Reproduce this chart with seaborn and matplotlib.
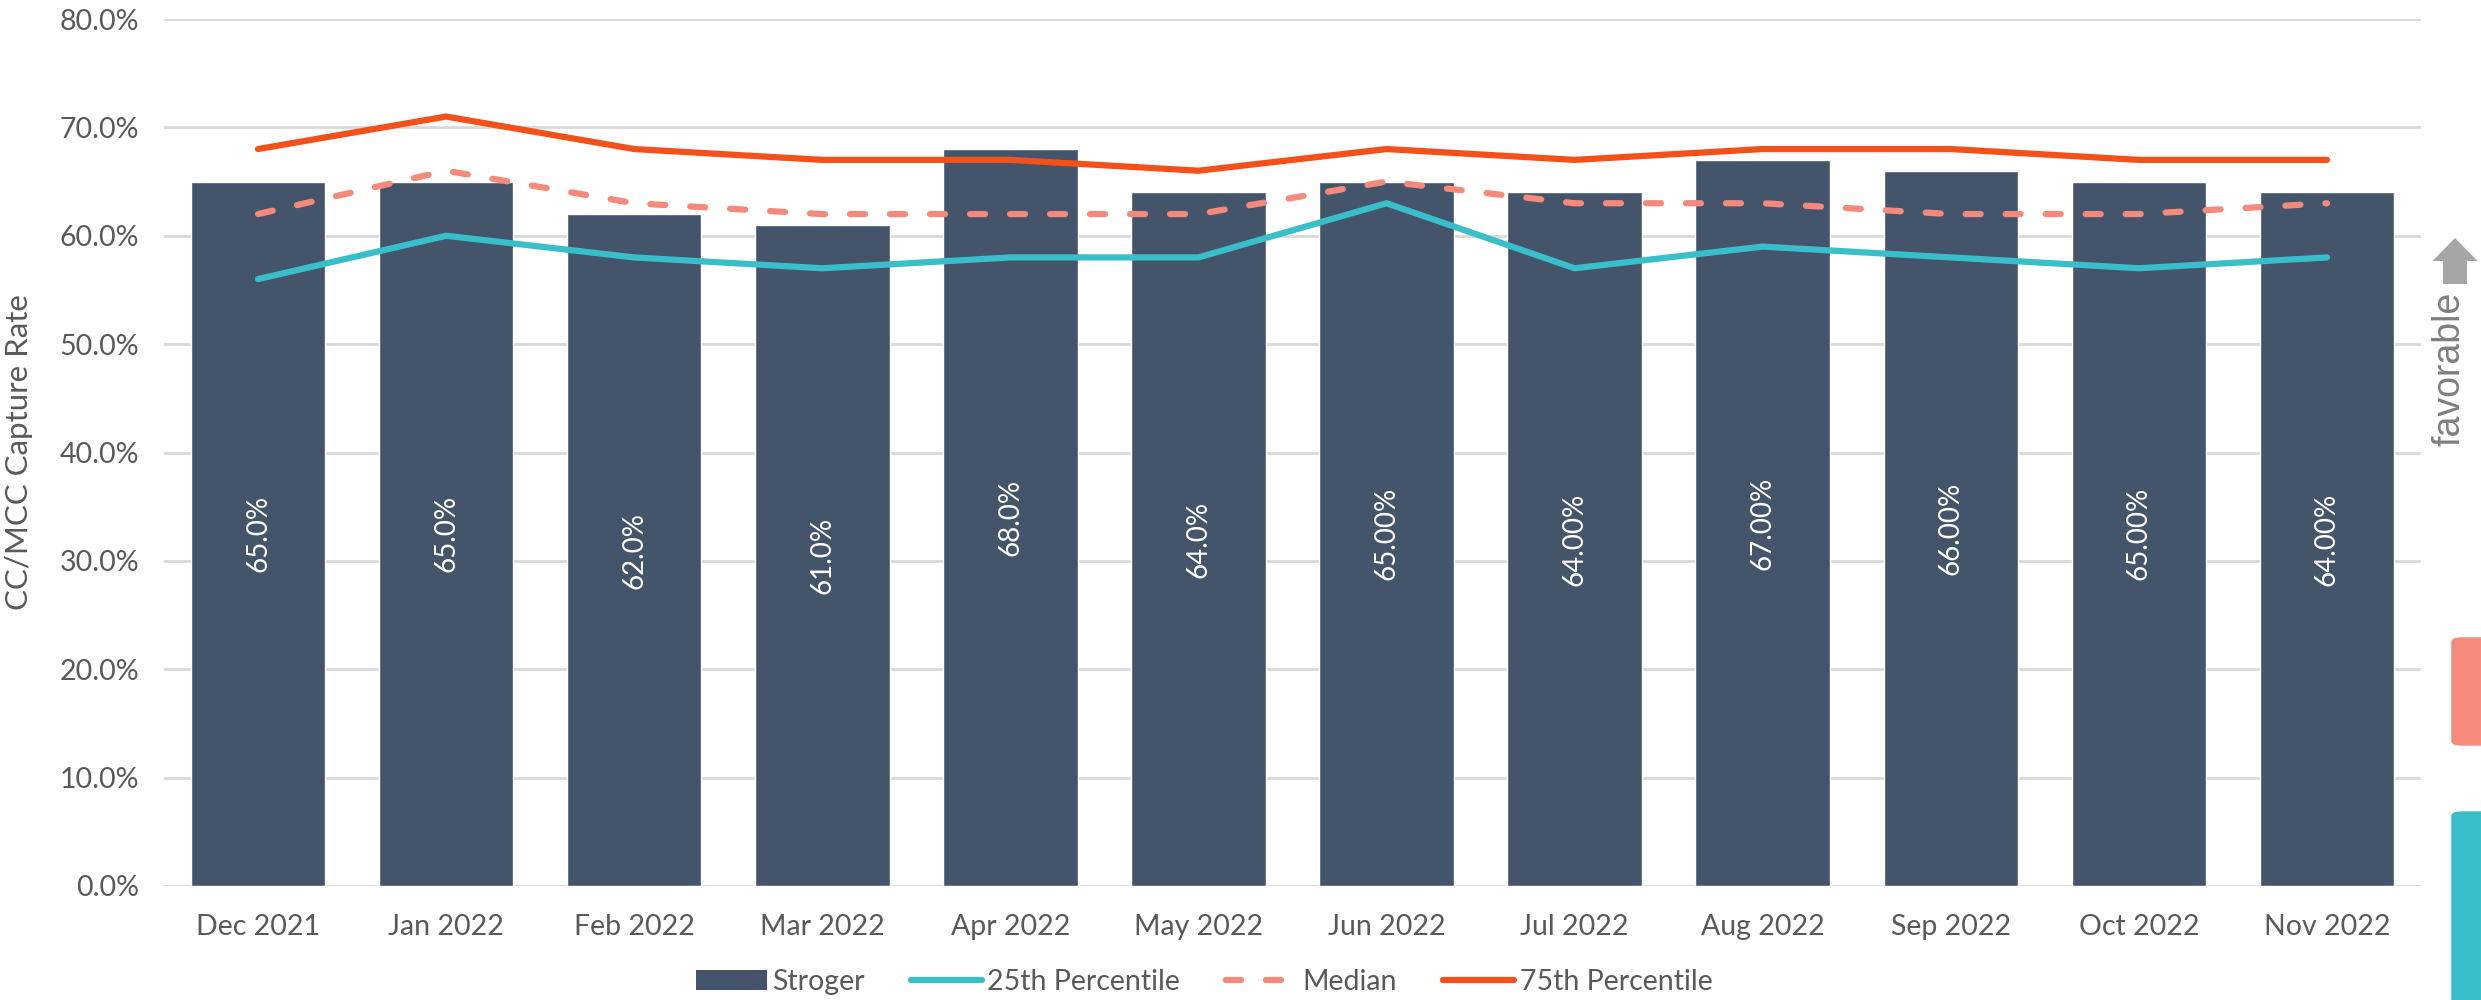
import numpy as np
import pandas as pd
import matplotlib
matplotlib.use("Agg")
import matplotlib.pyplot as plt
import seaborn as sns
from matplotlib.patches import FancyBboxPatch, FancyArrow, Patch
from matplotlib.lines import Line2D
from matplotlib.ticker import FuncFormatter

months = ["Dec 2021", "Jan 2022", "Feb 2022", "Mar 2022", "Apr 2022", "May 2022",
          "Jun 2022", "Jul 2022", "Aug 2022", "Sep 2022", "Oct 2022", "Nov 2022"]
stroger = [0.65, 0.65, 0.62, 0.61, 0.68, 0.64, 0.65, 0.64, 0.67, 0.66, 0.65, 0.64]
bar_labels = ["65.0%", "65.0%", "62.0%", "61.0%", "68.0%", "64.0%",
              "65.00%", "64.00%", "67.00%", "66.00%", "65.00%", "64.00%"]
p25 = [0.56, 0.60, 0.58, 0.57, 0.58, 0.58, 0.63, 0.57, 0.59, 0.58, 0.57, 0.58]
median = [0.62, 0.66, 0.63, 0.62, 0.62, 0.62, 0.65, 0.63, 0.63, 0.62, 0.62, 0.63]
p75 = [0.68, 0.71, 0.68, 0.67, 0.67, 0.66, 0.68, 0.67, 0.68, 0.68, 0.67, 0.67]
yticks = [0.0, 0.1, 0.2, 0.3, 0.4, 0.5, 0.6, 0.7, 0.8]

BAR = "#44546A"
TEAL = "#38BFCA"
SALMON = "#F5897A"
ORANGE = "#F4511A"
TXT = "#595959"

sns.set_theme(style="white")
plt.rcParams["font.family"] = ["Lato", "DejaVu Sans"]

fig = plt.figure(figsize=(24.81, 10), dpi=100)
ax = fig.add_axes([164 / 2481, 1 - 886 / 1000, (2421 - 164) / 2481, (886 - 19) / 1000])

df = pd.DataFrame({"month": months, "value": stroger})
sns.barplot(data=df, x="month", y="value", color=BAR, width=0.715, saturation=1,
            ax=ax, zorder=2)

xpos = np.arange(len(months))
lw = 4.5
l1, = ax.plot(xpos, p25, color=TEAL, lw=lw, solid_capstyle="round", zorder=3)
l2, = ax.plot(xpos, median, color=SALMON, lw=lw, dash_capstyle="round",
              dashes=(2.4, 4.0), zorder=3)
l3, = ax.plot(xpos, p75, color=ORANGE, lw=lw, solid_capstyle="round", zorder=3)

for i, (v, lab) in enumerate(zip(stroger, bar_labels)):
    ax.text(i, v / 2, lab, rotation=90, ha="center", va="center",
            color="white", fontsize=20, zorder=4)

ax.set_xlim(-0.5, len(months) - 0.5)
ax.set_ylim(0, 0.8)
ax.set_yticks(yticks)
ax.yaxis.set_major_formatter(FuncFormatter(lambda v, p: f"{v*100:.1f}%"))
ax.grid(axis="y", color="#D9D9D9", lw=2, zorder=0)
ax.set_axisbelow(True)
for s in ax.spines.values():
    s.set_visible(False)
ax.tick_params(axis="both", length=0, labelsize=20.5, colors=TXT, pad=18)
ax.tick_params(axis="x", pad=20)
ax.set_xlabel("")
ax.set_ylabel("CC/MCC Capture Rate", fontsize=22.5, color=TXT, labelpad=14)
ax.yaxis.set_label_coords(-0.058, 0.5)

handles = [Patch(facecolor=BAR, edgecolor="none"), l1, l2, l3]
labels = ["Stroger", "25th Percentile", "Median", "75th Percentile"]
fig.legend(handles, labels, loc="center", bbox_to_anchor=(1204 / 2481, 1 - 982 / 1000),
           ncol=4, frameon=False, fontsize=20.5, labelcolor=TXT, handlelength=2.5,
           handletextpad=0.2, columnspacing=1.6)

# right-side decorations
W, H = 2481, 1000
fig.text(2450 / W, 1 - 369 / H, "favorable", rotation=90, ha="center", va="center",
         fontsize=27, color="#7F7F7F", family=["Liberation Sans", "DejaVu Sans"])
arr = FancyArrow(2455 / W, 1 - 284 / H, 0, 46 / H, width=24 / W, head_width=45 / W,
                 head_length=23 / H, length_includes_head=True, color="#A6A6A6",
                 transform=fig.transFigure, lw=0)
fig.patches.append(arr)
for y0, y1, c in [(638, 745, SALMON), (812, 1010, TEAL)]:
    p = FancyBboxPatch((2452 / W, 1 - y1 / H), 60 / W, (y1 - y0) / H,
                       boxstyle="round,pad=0,rounding_size=0.004", color=c,
                       transform=fig.transFigure)
    fig.patches.append(p)

fig.savefig("out.png", dpi=100)
